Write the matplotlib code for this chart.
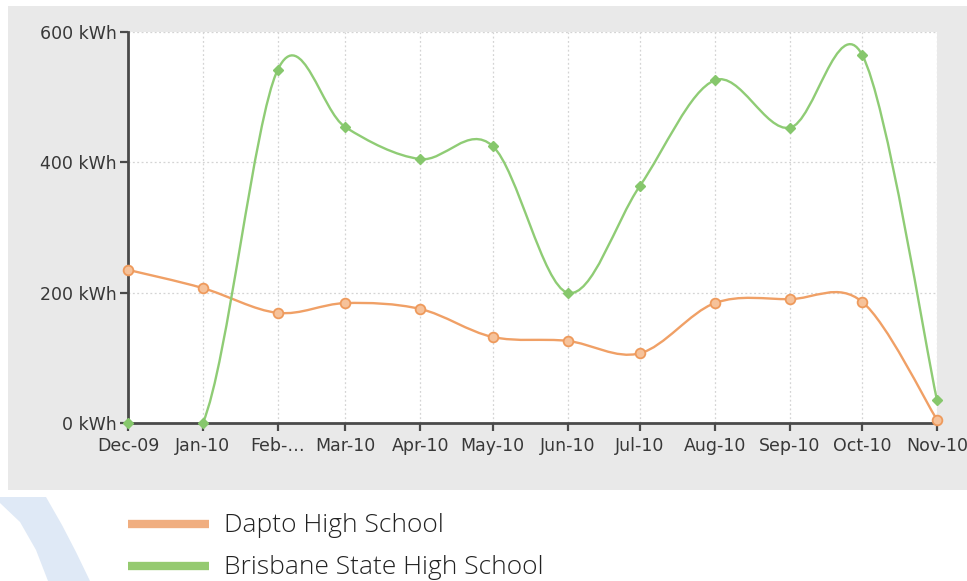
"""
plot.py
Monthly energy use for two schools, drawn as smooth (Catmull-Rom) curves.
"""
import numpy as np
import pandas as pd
import matplotlib
matplotlib.use("Agg")
import matplotlib.pyplot as plt
import matplotlib.dates as mdates
from matplotlib.path import Path
from matplotlib.patches import PathPatch, Rectangle, Polygon
from matplotlib.lines import Line2D


MONTHS = ["2009-12-01", "2010-01-01", "2010-02-01", "2010-03-01", "2010-04-01",
          "2010-05-01", "2010-06-01", "2010-07-01", "2010-08-01", "2010-09-01",
          "2010-10-01", "2010-11-01"]
MONTH_LABELS = ["Dec-09", "Jan-10", "Feb-…", "Mar-10", "Apr-10", "May-10",
                "Jun-10", "Jul-10", "Aug-10", "Sep-10", "Oct-10", "Nov-10"]
DAPTO = [235, 207, 169, 184, 175, 132, 126, 107, 184, 190, 186, 5]
BRISBANE = [0, 0, 542, 454, 405, 425, 200, 364, 526, 453, 565, 35]
SERIES_NAMES = ["Dapto High School", "Brisbane State High School"]
Y_TICKS = [0, 200, 400, 600]

ORANGE = "#f0a066"
GREEN = "#8fcc75"
LEGEND_ORANGE = "#f0ae80"
LEGEND_GREEN = "#95ca70"


def spline_path(xs, ys):
    """Cubic Bezier path through the points (Catmull-Rom style, tension 0.5)."""
    pts = np.column_stack([xs, ys]).astype(float)
    n = len(pts)
    verts = [pts[0]]
    codes = [Path.MOVETO]
    for i in range(n - 1):
        p0 = pts[i - 1] if i > 0 else pts[i]
        p1, p2 = pts[i], pts[i + 1]
        p3 = pts[i + 2] if i + 2 < n else pts[i + 1]
        verts += [p1 + (p2 - p0) / 6.0, p2 - (p3 - p1) / 6.0, p2]
        codes += [Path.CURVE4] * 3
    return Path(verts, codes)


W, H = 967, 581
fig = plt.figure(figsize=(W / 100, H / 100), dpi=100)
fig.patch.set_facecolor("white")


def fx(px):
    return px / W


def fy(py):
    return 1 - py / H


# grey chart panel and the page's blue decoration
fig.patches.append(Rectangle((fx(8), fy(490)), 1 - fx(8), (490 - 6) / H,
                             transform=fig.transFigure, facecolor="#e9e9e9",
                             edgecolor="none", zorder=-5))
arc = [(0, 497), (46, 497), (62, 525), (76, 552), (90, 581), (48, 581),
       (36, 550), (20, 522), (0, 503)]
fig.patches.append(Polygon([(fx(a), fy(b)) for a, b in arc],
                           closed=True, transform=fig.transFigure,
                           facecolor="#dfe9f6", edgecolor="none", zorder=-5))

ax = fig.add_axes([fx(128), fy(423), (937 - 128) / W, (423 - 32) / H])
ax.set_zorder(2)
ax.set_facecolor("white")

x = mdates.date2num(pd.to_datetime(MONTHS))

# --- Dapto: round markers, Brisbane: small diamonds ---
ax.add_patch(PathPatch(spline_path(x, DAPTO), facecolor="none",
                       edgecolor=ORANGE, linewidth=1.7, zorder=3))
ax.plot(x, DAPTO, linestyle="none", marker="o", markersize=7,
        markerfacecolor="#f6c29a", markeredgecolor="#ee9a5c",
        markeredgewidth=1.3, zorder=4, clip_on=False)

ax.add_patch(PathPatch(spline_path(x, BRISBANE), facecolor="none",
                       edgecolor=GREEN, linewidth=1.7, zorder=3))
ax.plot(x, BRISBANE, linestyle="none", marker="D", markersize=5,
        color="#86c76c", zorder=4, clip_on=False)

ax.set_xlim(x[0], x[-1])
ax.set_ylim(0, 600)
ax.set_xticks(x)
ax.set_xticklabels(MONTH_LABELS)
ax.set_yticks(Y_TICKS)
ax.set_yticklabels([f"{v} kWh" for v in Y_TICKS])

ax.grid(True, linestyle=(0, (1.5, 2)), color="#d4d4d4", linewidth=0.9)
ax.set_axisbelow(True)
for side in ["top", "right"]:
    ax.spines[side].set_visible(False)
for side in ["left", "bottom"]:
    ax.spines[side].set_color("#4a4a4a")
    ax.spines[side].set_linewidth(2)
ax.tick_params(direction="out", length=6, width=1.6, color="#4a4a4a",
               labelsize=12.5, labelcolor="#383838")
ax.tick_params(axis="x", pad=4)
ax.tick_params(axis="y", pad=2)

# legend below the panel, placed by hand
for name, color, py in [(SERIES_NAMES[0], LEGEND_ORANGE, 524),
                        (SERIES_NAMES[1], LEGEND_GREEN, 566)]:
    fig.lines.append(Line2D([fx(128), fx(209)], [fy(py), fy(py)],
                            transform=fig.transFigure, color=color,
                            linewidth=6, solid_capstyle="butt"))
    fig.text(fx(224), fy(py + 1), name, ha="left", va="center",
             family="Open Sans", weight="light", size=19, color="#222222")

fig.savefig("out.png", dpi=100)
